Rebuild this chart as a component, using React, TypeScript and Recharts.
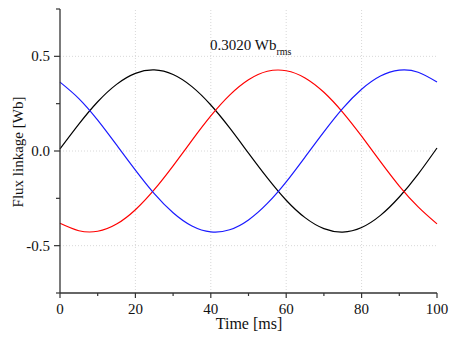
import React from 'react';
import { LineChart, Line, XAxis, YAxis, ReferenceLine } from 'recharts';

const time = [0, 5, 10, 15, 20, 25, 30, 35, 40, 45, 50, 55, 60, 65, 70, 75, 80, 85, 90, 95, 100];
const phaseA = [0.011, 0.142, 0.26, 0.352, 0.41, 0.428, 0.404, 0.34, 0.243, 0.122, -0.011, -0.142, -0.26, -0.352, -0.41, -0.428, -0.404, -0.34, -0.243, -0.122, 0.016];
const phaseB = [-0.382, -0.421, -0.424, -0.386, -0.31, -0.204, -0.078, 0.056, 0.185, 0.295, 0.376, 0.421, 0.424, 0.386, 0.31, 0.204, 0.078, -0.056, -0.185, -0.295, -0.385];
const phaseC = [0.364, 0.277, 0.163, 0.032, -0.101, -0.225, -0.326, -0.396, -0.427, -0.416, -0.364, -0.277, -0.163, -0.032, 0.101, 0.225, 0.326, 0.396, 0.427, 0.416, 0.364];

const xTicks = [0, 10, 20, 30, 40, 50, 60, 70, 80, 90, 100];
const xMajor = [0, 20, 40, 60, 80, 100];
const yTicks = [-0.75, -0.5, -0.25, 0, 0.25, 0.5, 0.75];
const yMajor = [-0.5, 0, 0.5];

const data = time.map((t, i) => ({ t, a: phaseA[i], b: phaseB[i], c: phaseC[i] }));

const FONT = 'Liberation Serif';
const AXIS = '#333';

const XTick = (props: any) => {
  const { x, y, payload } = props;
  const major = xMajor.includes(payload.value);
  return (
    <g>
      <line x1={x} y1={y} x2={x} y2={y + (major ? 5 : 3)} stroke={AXIS} strokeWidth={1.2} />
      {major && (
        <text x={x} y={y + 21} textAnchor="middle" fontFamily={FONT} fontSize={15} fill="#111">
          {payload.value}
        </text>
      )}
    </g>
  );
};

const YTick = (props: any) => {
  const { x, y, payload } = props;
  const major = yMajor.includes(payload.value);
  return (
    <g>
      <line x1={x} y1={y} x2={x - (major ? 6 : 4)} y2={y} stroke={AXIS} strokeWidth={1.2} />
      {major && (
        <text x={x - 10} y={y + 5} textAnchor="end" fontFamily={FONT} fontSize={15} fill="#111">
          {payload.value.toFixed(1)}
        </text>
      )}
    </g>
  );
};

export default function App() {
  return (
    <div style={{ position: 'absolute', left: 0, top: 0, width: 450, height: 337, background: '#fff', fontFamily: FONT }}>
      <LineChart
        width={450}
        height={337}
        data={data}
        margin={{ top: 9, right: 13, left: 0, bottom: 0 }}
        style={{ fontFamily: FONT }}
      >
        {xMajor.slice(1, -1).map((v) => (
          <ReferenceLine key={'x' + v} x={v} stroke="#d8d8d8" strokeDasharray="1 2" />
        ))}
        {yMajor.map((v) => (
          <ReferenceLine key={'y' + v} y={v} stroke="#d8d8d8" strokeDasharray="1 2" />
        ))}
        <XAxis
          dataKey="t"
          type="number"
          domain={[0, 100]}
          ticks={xTicks}
          interval={0}
          height={44}
          tickSize={0}
          tickMargin={0}
          tickLine={false}
          tick={<XTick />}
          stroke={AXIS}
          strokeWidth={1.3}
        />
        <YAxis
          type="number"
          domain={[-0.75, 0.75]}
          ticks={yTicks}
          interval={0}
          width={60}
          tickSize={0}
          tickMargin={0}
          tickLine={false}
          tick={<YTick />}
          stroke={AXIS}
          strokeWidth={1.3}
        />
        <Line type="natural" dataKey="a" stroke="#000" strokeWidth={1.2} dot={false} isAnimationActive={false} />
        <Line type="natural" dataKey="b" stroke="#ff0000" strokeWidth={1.2} dot={false} isAnimationActive={false} />
        <Line type="natural" dataKey="c" stroke="#1a1aff" strokeWidth={1.2} dot={false} isAnimationActive={false} />
      </LineChart>
      <div style={{ position: 'absolute', left: 210, top: 37, fontSize: 15, color: '#111', whiteSpace: 'nowrap' }}>
        0.3020 Wb<span style={{ fontSize: 10, position: 'relative', top: 5 }}>rms</span>
      </div>
      <div style={{ position: 'absolute', left: 0, top: 315, width: 498, textAlign: 'center', fontSize: 16, color: '#111' }}>
        Time [ms]
      </div>
      <div
        style={{
          position: 'absolute',
          left: 18,
          top: 152,
          transform: 'translate(-50%, -50%) rotate(-90deg)',
          fontSize: 15,
          color: '#111',
          whiteSpace: 'nowrap',
        }}
      >
        Flux linkage [Wb]
      </div>
    </div>
  );
}
